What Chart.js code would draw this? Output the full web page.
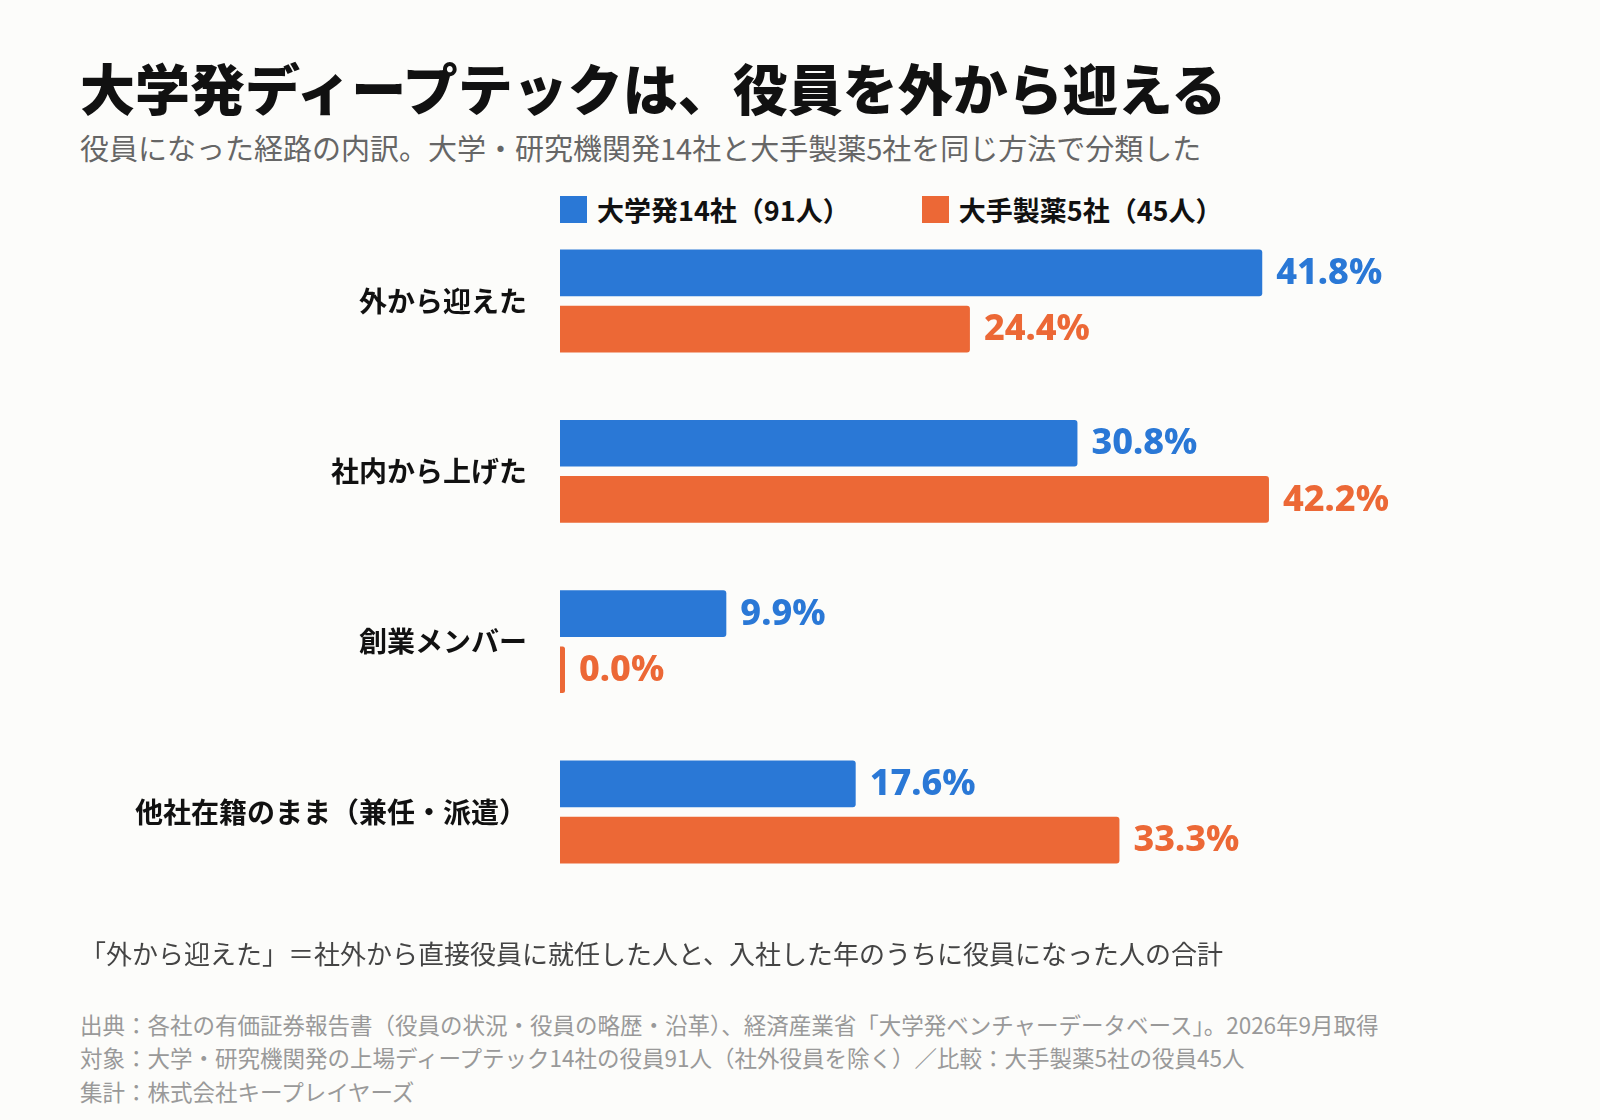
<!DOCTYPE html>
<html lang="ja">
<head>
<meta charset="utf-8">
<script src="https://cdn.jsdelivr.net/npm/chart.js@4"></script>
<style>
  body { margin: 0; background: #fcfcfa; font-family: "Noto Sans CJK JP", "Noto Sans", sans-serif; }
  #page { position: relative; width: 1600px; height: 1120px; }
  .t { position: absolute; left: 80px; white-space: nowrap; }
  #title { top: 46px; font-size: 55px; font-weight: 900; color: #111; }
  #sub { top: 126px; font-size: 29px; color: #666; }
  #legend { position: absolute; top: 190px; left: 560px; font-size: 27px; font-weight: 700; color: #111; }
  #legend span { display: inline-flex; align-items: center; margin-right: 72px; }
  #legend i { display: inline-block; width: 27px; height: 27px; margin-right: 10px; }
  #note { top: 934px; font-size: 26px; color: #444; }
  .src { font-size: 22.5px; color: #999; }
  canvas { position: absolute; left: 0; top: 174px; }
</style>
</head>
<body>
<div id="page">
  <div class="t" id="title">大学発ディープテックは、役員を外から迎える</div>
  <div class="t" id="sub">役員になった経路の内訳。大学・研究機関発14社と大手製薬5社を同じ方法で分類した</div>
  <div id="legend"></div>
  <canvas id="chart" width="1600" height="765"></canvas>
  <div class="t" id="note">「外から迎えた」＝社外から直接役員に就任した人と、入社した年のうちに役員になった人の合計</div>
  <div class="t src" style="top:1008px">出典：各社の有価証券報告書（役員の状況・役員の略歴・沿革）、経済産業省「大学発ベンチャーデータベース」。2026年9月取得</div>
  <div class="t src" style="top:1041px">対象：大学・研究機関発の上場ディープテック14社の役員91人（社外役員を除く）／比較：大手製薬5社の役員45人</div>
  <div class="t src" style="top:1075px">集計：株式会社キープレイヤーズ</div>
</div>
<script>
const categories = ['外から迎えた', '社内から上げた', '創業メンバー', '他社在籍のまま（兼任・派遣）'];
const seriesNames = ['大学発14社（91人）', '大手製薬5社（45人）'];
const univValues = [41.8, 30.8, 9.9, 17.6];
const pharmaValues = [24.4, 42.2, 0.0, 33.3];
const colors = ['#2a78d6', '#ec6836'];

document.getElementById('legend').innerHTML = seriesNames
    .map((n, i) => `<span><i style="background:${colors[i]}"></i>${n}</span>`).join('');

// draw value labels at the end of each bar
const valueLabels = {
    id: 'valueLabels',
    afterDatasetsDraw(chart) {
        const ctx = chart.ctx;
        ctx.save();
        ctx.font = '800 36px "Noto Sans", "Noto Sans CJK JP", sans-serif';
        ctx.textBaseline = 'middle';
        chart.data.datasets.forEach((ds, di) => {
            chart.getDatasetMeta(di).data.forEach((bar, i) => {
                ctx.fillStyle = colors[di];
                ctx.fillText(ds.data[i].toFixed(1) + '%', bar.x + 14, bar.y + 1);
            });
        });
        ctx.restore();
    }
};

new Chart(document.getElementById('chart'), {
    type: 'bar',
    data: {
        labels: categories,
        datasets: [
            { label: seriesNames[0], data: univValues, backgroundColor: colors[0] },
            { label: seriesNames[1], data: pharmaValues, backgroundColor: colors[1] }
        ]
    },
    options: {
        indexAxis: 'y',
        responsive: false,
        animation: false,
        datasets: { bar: { categoryPercentage: 0.66, barPercentage: 0.83, borderRadius: 3, borderSkipped: 'start', minBarLength: 5 } },
        layout: { padding: { top: 31.8, bottom: 20.5, right: 200, left: 0 } },
        plugins: { legend: { display: false }, tooltip: { enabled: false } },
        scales: {
            x: { display: false, min: 0, max: 50 },
            y: {
                grid: { display: false },
                border: { display: false },
                afterFit(scale) { scale.width = 560; },
                ticks: {
                    padding: 25,
                    color: '#111',
                    font: { size: 28, weight: 'bold', family: '"Noto Sans CJK JP", sans-serif' }
                }
            }
        }
    },
    plugins: [valueLabels]
});
</script>
</body>
</html>
